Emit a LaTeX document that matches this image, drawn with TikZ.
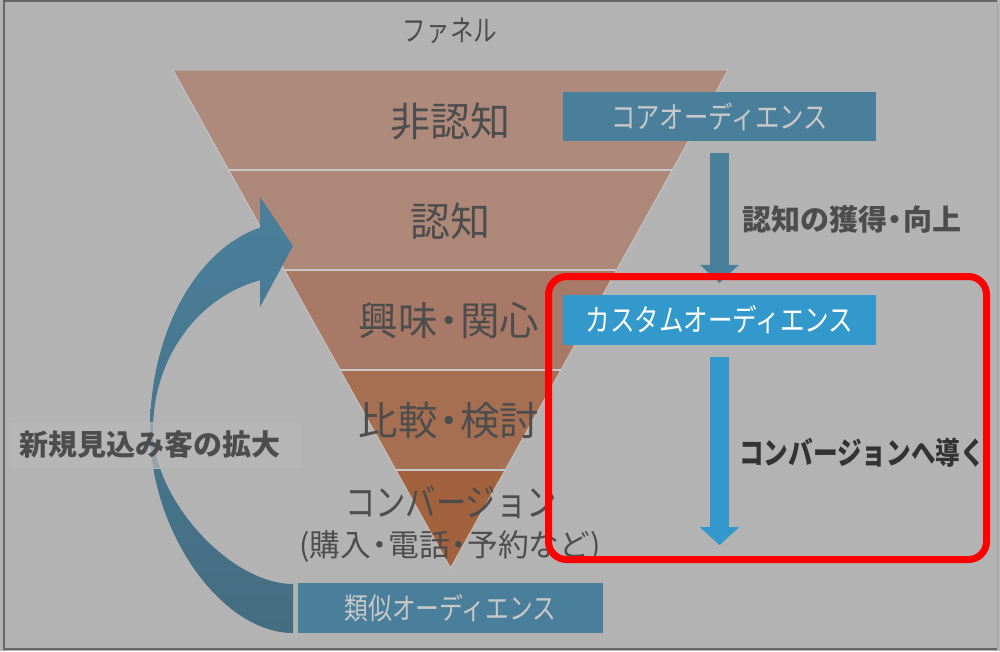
\documentclass[tikz,border=0pt]{standalone}
\usepackage{fontspec}
\usepackage{tikz}
\usetikzlibrary{arrows.meta}
\newfontfamily\jp{Noto Sans CJK JP}
\newfontfamily\jpn[FakeStretch=0.8]{Noto Sans CJK JP}
\newcommand\dotsep{\kern-.22em・\kern-.22em}
\definecolor{bggray}{HTML}{B3B3B3}
\definecolor{bandA}{HTML}{AE8A7C}
\definecolor{bandB}{HTML}{AD8879}
\definecolor{bandC}{HTML}{A87966}
\definecolor{bandD}{HTML}{A66F51}
\definecolor{bandE}{HTML}{A3623E}
\definecolor{steel}{HTML}{4A7F9B}
\definecolor{steeldark}{HTML}{456D81}
\definecolor{skyblue}{HTML}{3399CC}
\definecolor{inkgray}{HTML}{4D4D4D}
\definecolor{dimwhite}{HTML}{C8C8C8}

\begin{document}
\begin{tikzpicture}[x=1pt, y=-1pt,
    stage/.style={inner sep=0pt, text=inkgray},
    audience/.style={fill=steel, text=dimwhite, minimum width=313pt, minimum height=49pt, inner sep=0pt, font=\jpn\fontsize{30.4}{36}\selectfont},
    blockarrow/.style={line width=19pt, -{Triangle[width=38pt,length=18pt]}},
    note/.style={inner sep=0pt, text=inkgray, font=\jp\bfseries\fontsize{29}{35}\selectfont}]
        \useasboundingbox (0,0) rectangle (1000,651);
        \fill[bggray] (0,0) rectangle (1000,651);
        \draw[line width=2pt, black!60] (997,1) -- (4,1) -- (4,648.5) -- (997,648.5);
        \draw[line width=1pt, black!35] (997,1) -- (997,648.5);
        \node[stage, font=\jpn\fontsize{29.4}{35}\selectfont] (title) at (450,31) {ファネル};
        % funnel
        \begin{scope}
          \clip (173,70) -- (728,70) -- (450.5,568) -- cycle;
          \foreach \c [count=\i from 0] in {bandA,bandB,bandC,bandD,bandE}
            \fill[\c] (160,70+100*\i) rectangle (740,170+100*\i);
          \foreach \y in {170,270,370,470}
            \draw[line width=1.2pt, black!22] (160,\y) -- (740,\y);
        \end{scope}
        \draw[line width=0.8pt, black!22] (173,70) -- (728,70) -- (450.5,568) -- cycle;
        \node[stage, font=\jp\fontsize{40}{48}\selectfont] (unaware) at (450,121) {非認知};
        \node[stage, font=\jp\fontsize{40}{48}\selectfont] (aware) at (450,221) {認知};
        \node[stage, font=\jp\fontsize{39.5}{47}\selectfont] (interest) at (449,321) {興味\dotsep 関心};
        \node[stage, font=\jp\fontsize{39.5}{47}\selectfont] (compare) at (449,421) {比較\dotsep 検討};
        \node[stage, font=\jpn\fontsize{37.9}{45}\selectfont] (conv) at (451,502) {コンバージョン};
        \node[stage, font=\jp\fontsize{30.8}{37}\selectfont] (convsub) at (450,547) {(購入\dotsep 電話\dotsep 予約など)};
        % audiences
        \node[audience] (core) at (719.5,116.5) {コアオーディエンス};
        \node[audience, fill=skyblue, text=white, minimum height=50pt, font=\jpn\fontsize{30.7}{36}\selectfont] (custom) at (719.5,320) {カスタムオーディエンス};
        \node[audience, minimum width=305pt, minimum height=50pt, font=\jpn\fontsize{29.75}{35}\selectfont] (similar) at (450.5,608) {類似オーディエンス};
        \coordinate (goal) at ([yshift=-200pt]custom.south);
        \draw[blockarrow, steel] ([yshift=-12pt]core.south) -- ([yshift=12pt]custom.north);
        \draw[blockarrow, skyblue] ([yshift=-12pt]custom.south) -- (goal);
        \node[note, anchor=west] (gain) at (742,219) {認知の獲得\dotsep 向上};
        \node[note, anchor=west, text=black!80, font=\jpn\bfseries\fontsize{30.8}{37}\selectfont] (lead) at (739,453) {コンバージョンへ導く};
        % curved arrow
        \shade[top color=steel, bottom color=steeldark]
          (293,633) .. controls (221.5,633) and (150,531.5) .. (150,430)
          arc[start angle=180, end angle=103.34, x radius=143pt, y radius=208pt]
          -- (260,197) -- (293,246) -- (260,307) -- (260,280.3)
          arc[start angle=103.63, end angle=180, x radius=140pt, y radius=154pt]
          .. controls (153,499) and (230,584) .. (293,584) -- cycle;
        \node[draw=black!30, line width=0.5pt, fill=black!28, fill opacity=0.7, text opacity=1,
          anchor=west, minimum height=46pt, text width=272pt, inner xsep=11pt, inner ysep=0pt,
          align=left, text=inkgray, font=\jp\bfseries\fontsize{29}{35}\selectfont] (prospect) at (8,445) {新規見込み客の拡大};
        \draw[red, line width=7pt, rounded corners=18pt] (548.5,276.5) rectangle (986.5,559.5);
      \end{tikzpicture}
\end{document}
